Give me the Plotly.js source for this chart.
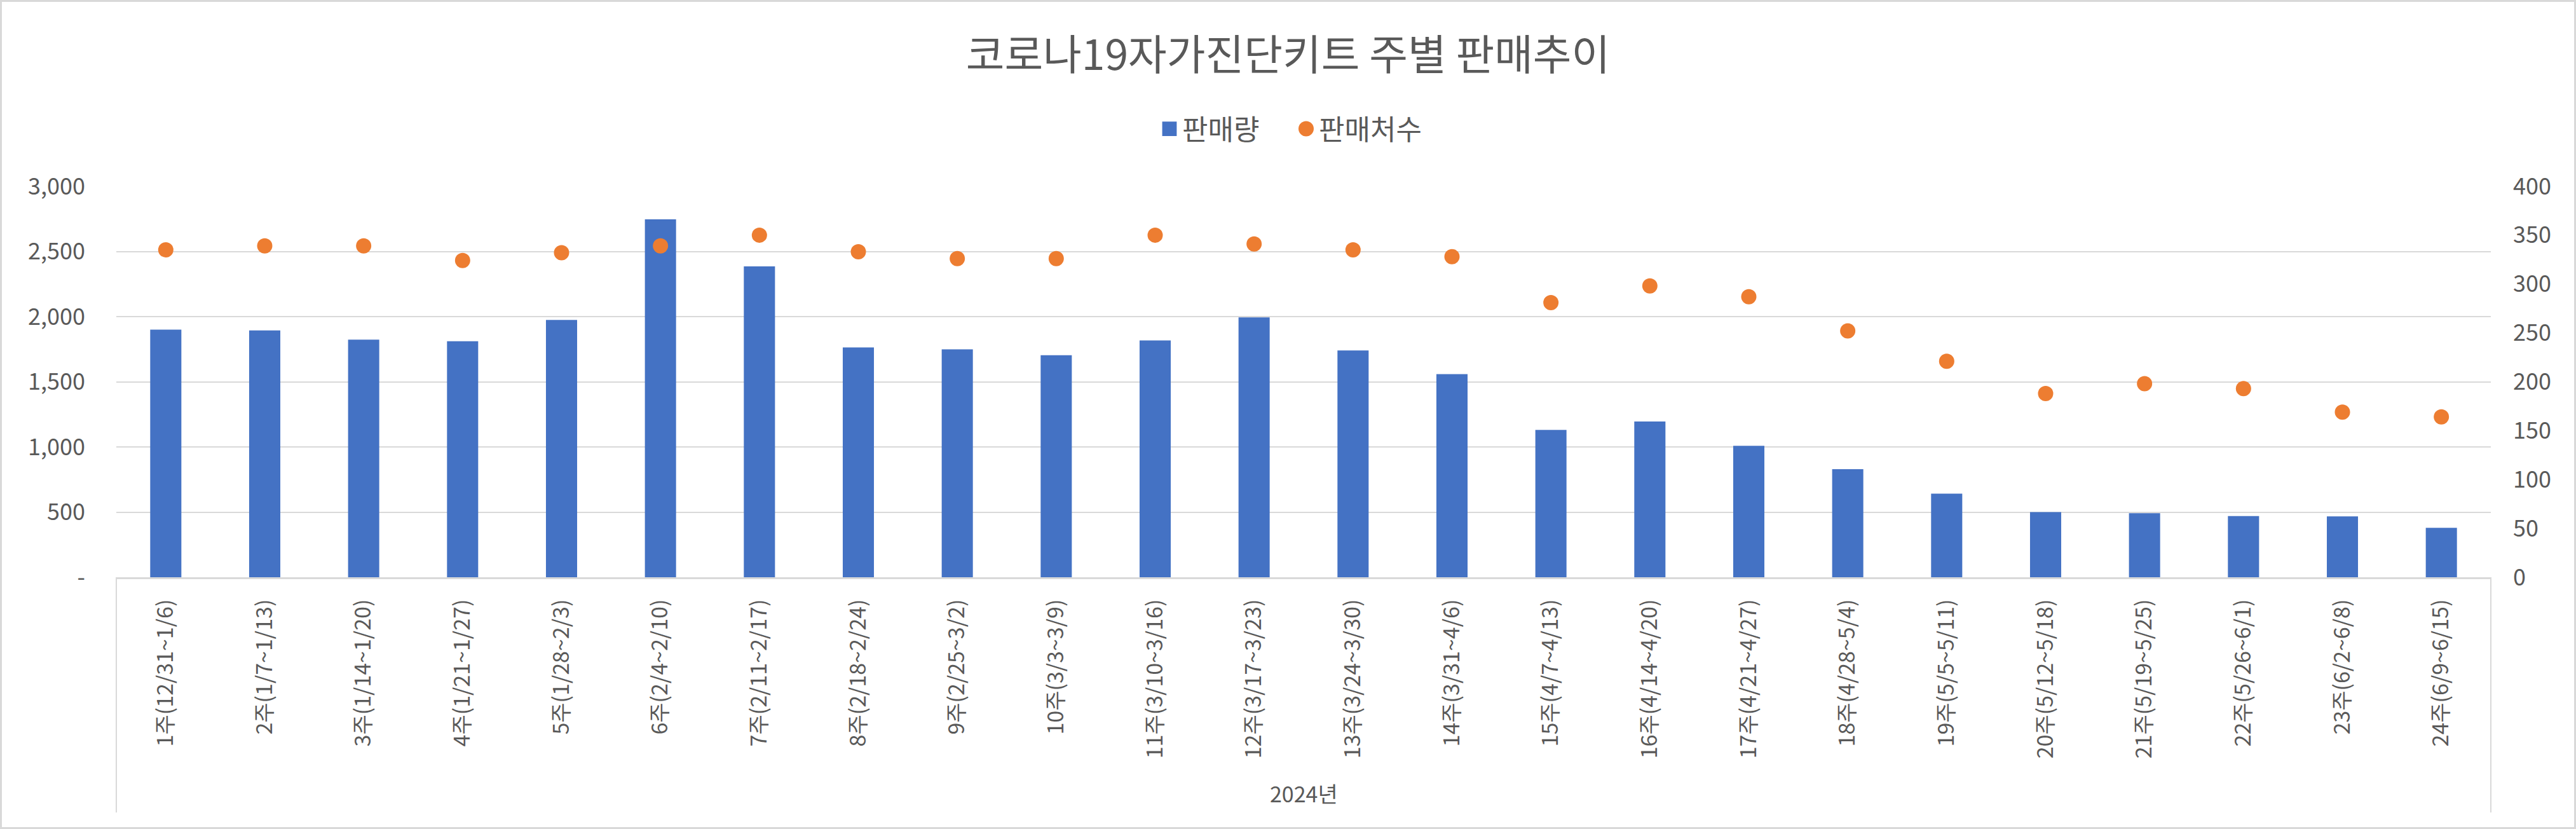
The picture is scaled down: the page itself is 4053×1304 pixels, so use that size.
<!DOCTYPE html>
<html>
<head>
<meta charset="utf-8">
<script src="https://cdn.plot.ly/plotly-3.0.1.min.js"></script>
<style>
html,body{margin:0;padding:0;background:#fff;}
#chart{width:4053px;height:1304px;}
</style>
</head>
<body>
<div id="chart"></div>
<script>
const weeks = [
  "1주(12/31~1/6)","2주(1/7~1/13)","3주(1/14~1/20)","4주(1/21~1/27)",
  "5주(1/28~2/3)","6주(2/4~2/10)","7주(2/11~2/17)","8주(2/18~2/24)",
  "9주(2/25~3/2)","10주(3/3~3/9)","11주(3/10~3/16)","12주(3/17~3/23)",
  "13주(3/24~3/30)","14주(3/31~4/6)","15주(4/7~4/13)","16주(4/14~4/20)",
  "17주(4/21~4/27)","18주(4/28~5/4)","19주(5/5~5/11)","20주(5/12~5/18)",
  "21주(5/19~5/25)","22주(5/26~6/1)","23주(6/2~6/8)","24주(6/9~6/15)"
];
const salesVolume = [1900,1894,1823,1811,1974,2746,2385,1764,1749,1704,1817,1994,1740,1559,1130,1195,1009,829,642,500,491,470,467,379];
const storeCount = [335,339,339,324,332,339,350,333,326,326,350,341,335,328,281,298,287,252,221,188,198,193,169,164];
const leftTickVals = [0,500,1000,1500,2000,2500,3000];
const leftTickText = ["-","500","1,000","1,500","2,000","2,500","3,000"];
const rightTickVals = [0,50,100,150,200,250,300,350,400];
const groupLabel = "2024년";
const titleText = "코로나19자가진단키트 주별 판매추이";
const seriesNames = ["판매량","판매처수"];

const W = 4053, H = 1304;
const M = {l:183, r:134, t:293, b:396};
const PW = W - M.l - M.r, PH = H - M.t - M.b;
const grey = "#595959";
const font = "Noto Sans CJK KR, Noto Sans, sans-serif";

const traces = [
  {type:"bar", name:seriesNames[0], x:weeks, y:salesVolume, marker:{color:"#4472C4"}, yaxis:"y"},
  {type:"scatter", mode:"markers", name:seriesNames[1], x:weeks, y:storeCount,
   marker:{color:"#ED7D31", size:24}, yaxis:"y2"}
];

const layout = {
  width:W, height:H,
  margin:M,
  paper_bgcolor:"#fff", plot_bgcolor:"#fff",
  font:{family:font, color:grey, size:36},
  title:{text:titleText, font:{family:font, size:66, color:grey}, x:0.5, xanchor:"center", y:1-87/H, yanchor:"middle"},
  bargap:0.685,
  showlegend:true,
  legend:{orientation:"h", x:(2035-M.l)/PW, xanchor:"center", y:(H-M.b-203)/PH, yanchor:"middle",
          font:{family:font, size:44, color:grey}, itemsizing:"trace", entrywidth:170, entrywidthmode:"pixels"},
  xaxis:{type:"category", range:[-0.5, weeks.length-0.5], tickangle:-90, tickfont:{family:font, size:34, color:grey},
         showline:true, linecolor:"#d9d9d9", linewidth:3, ticks:"", showgrid:false, ticklabelstandoff:18,
         zeroline:false, automargin:false},
  yaxis:{range:[0,3000], tickvals:leftTickVals, ticktext:leftTickText, showgrid:true, gridcolor:"#d9d9d9", gridwidth:2,
         zeroline:false, showline:false, ticks:"", tickfont:{family:font, size:36, color:grey}, ticklabelstandoff:48, automargin:false},
  yaxis2:{range:[0,400], tickvals:rightTickVals, overlaying:"y", side:"right", showgrid:false, zeroline:false,
          showline:false, ticks:"", tickfont:{family:font, size:36, color:grey}, ticklabelstandoff:34, automargin:false},
  annotations:[
    {text:groupLabel, xref:"paper", yref:"paper", x:0.5, y:-(1247-(H-M.b))/PH, xanchor:"center", yanchor:"middle",
     showarrow:false, font:{family:font, size:34, color:grey}}
  ],
  shapes:[
    {type:"line", xref:"paper", yref:"paper", x0:0, x1:0, y0:0, y1:-(1278-(H-M.b))/PH, line:{color:"#d9d9d9", width:2}},
    {type:"line", xref:"paper", yref:"paper", x0:1, x1:1, y0:0, y1:-(1278-(H-M.b))/PH, line:{color:"#d9d9d9", width:2}},
    {type:"rect", xref:"paper", yref:"paper", x0:-(M.l-1.5)/PW, x1:1+(M.r-1.5)/PW, y0:-(M.b-1.5)/PH, y1:1+(M.t-1.5)/PH,
     line:{color:"#d9d9d9", width:3}, fillcolor:"rgba(0,0,0,0)"}
  ]
};

Plotly.newPlot("chart", traces, layout, {displayModeBar:false, staticPlot:true}).then(function(gd){
  const scales = [1.9, 1.5];
  const items = gd.querySelectorAll(".legend .traces");
  items.forEach(function(item, i){
    const s = scales[i] || 1;
    item.querySelectorAll(".legendpoints path").forEach(function(p){
      let bb;
      try { bb = p.getBBox(); } catch(e) { return; }
      if (!bb || (bb.width === 0 && bb.height === 0)) return;
      const cx = bb.x + bb.width/2, cy = bb.y + bb.height/2;
      const t = p.getAttribute("transform") || "";
      p.setAttribute("transform", t + " translate(" + cx + "," + cy + ") scale(" + s + ") translate(" + (-cx) + "," + (-cy) + ")");
    });
  });
});
</script>
</body>
</html>
